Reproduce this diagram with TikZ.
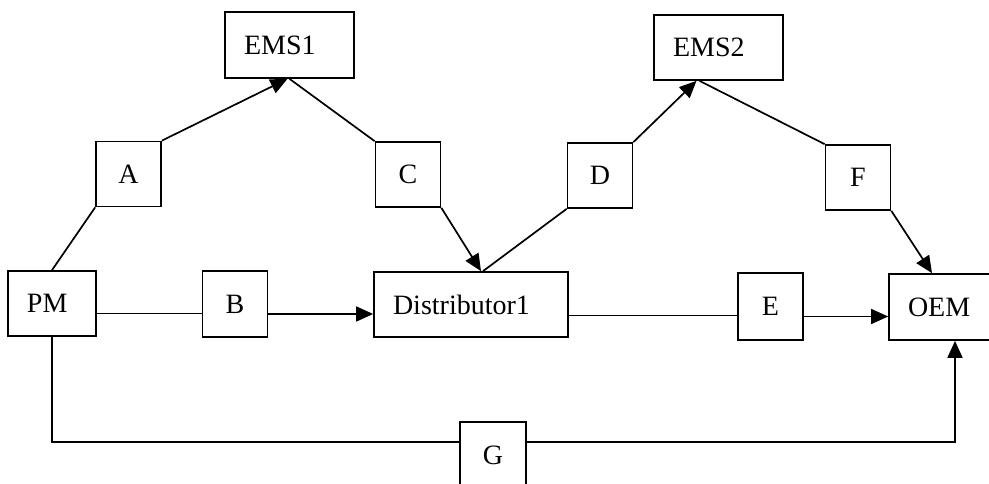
\documentclass[tikz,border=0pt]{standalone}
\usepackage{fontspec}
\setmainfont{Liberation Serif}
\usetikzlibrary{arrows.meta}
\begin{document}
\begin{tikzpicture}[x=1pt,y=1pt,
  box/.style={draw, line width=1.7pt, rectangle, inner sep=0pt, font=\fontsize{28}{32}\selectfont},
  sbox/.style={box, minimum width=65pt, minimum height=65pt},
  lbox/.style={box, inner xsep=19pt, align=left, minimum height=65pt},
  line/.style={line width=1.7pt},
  arr/.style={line width=1.7pt, -{Triangle[length=17pt,width=15pt]}}
]
\useasboundingbox (0,0) rectangle (989,-484);
\clip (0,0) rectangle (989,-484);

\node[lbox, text width=91pt, minimum height=66pt] (EMS1) at (289.5,-45) {EMS1};
\node[lbox, text width=91pt] (EMS2) at (718.5,-47.5) {EMS2};
\node[sbox] (A) at (128.5,-174) {A};
\node[sbox] (C) at (408,-174.5) {C};
\node[sbox] (D) at (600,-175.5) {D};
\node[sbox] (F) at (858,-177.5) {F};
\node[lbox, text width=50pt] (PM) at (52,-303.5) {PM};
\node[sbox, minimum height=66pt] (B) at (235,-304) {B};
\node[lbox, text width=156pt] (Dist) at (471,-304.5) {Distributor1};
\node[sbox, minimum height=67pt] (E) at (770.5,-306.5) {E};
\node[lbox, text width=68pt, minimum height=66pt] (OEM) at (942,-307) {OEM};
\node[sbox, minimum width=66pt, minimum height=66pt] (G) at (493,-455) {G};

\draw[line] (PM.north) -- (A.south west);
\draw[arr] (A.north east) -- ([xshift=-2pt]EMS1.south);
\draw[line] ([xshift=0pt]EMS1.south) -- (C.north west);
\draw[arr] (C.south east) -- ([xshift=10pt]Dist.north);
\draw[line] ([xshift=12pt]Dist.north) -- (D.south west);
\draw[arr] (D.north east) -- ([xshift=-22pt]EMS2.south);
\draw[line] ([xshift=-19pt]EMS2.south) -- (F.north west);
\draw[arr] (F.south east) -- ([xshift=-10pt]OEM.north);
\draw[line] ([yshift=-10pt]PM.east) -- ([yshift=-10pt]PM.east -| B.west);
\draw[arr] ([yshift=-10pt]B.east) -- ([yshift=-10pt]B.east -| Dist.west);
\draw[line] ([yshift=-11pt]Dist.east) -- ([yshift=-11pt]Dist.east -| E.west);
\draw[arr] ([yshift=-10pt]E.east) -- ([yshift=-10pt]E.east -| OEM.west);
\draw[line] (PM.south) |- ([yshift=13pt]G.west);
\draw[arr] ([yshift=13pt]G.east) -| ([xshift=13pt]OEM.south);
\end{tikzpicture}
\end{document}
